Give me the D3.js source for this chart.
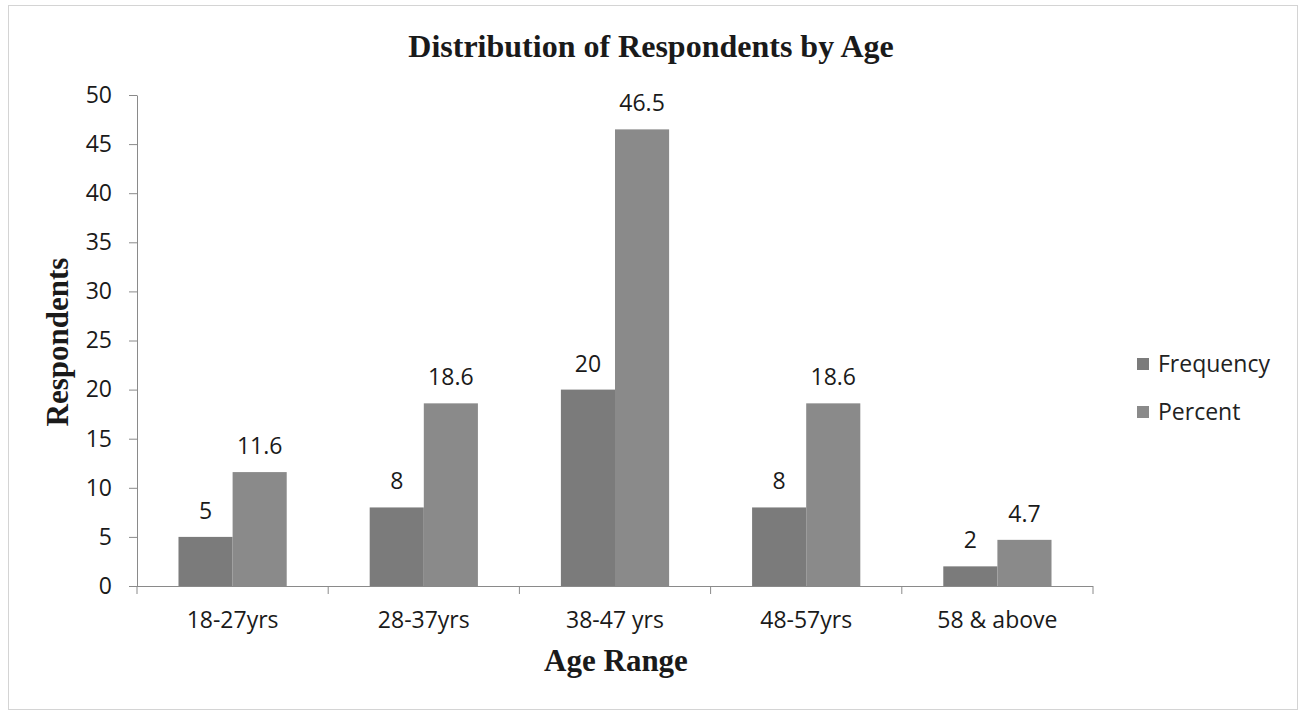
<!DOCTYPE html>
<html>
<head>
<meta charset="utf-8">
<script src="https://cdn.jsdelivr.net/npm/d3@7"></script>
<style>
  html, body { margin: 0; padding: 0; background: #fff; }
  svg { display: block; }
</style>
</head>
<body>
<svg id="chart" width="1300" height="712"></svg>
<script>
// Age groups and the two series plotted for each
const categories = ["18-27yrs", "28-37yrs", "38-47 yrs", "48-57yrs", "58 & above"];
const frequency = [5, 8, 20, 8, 2];
const percent = [11.6, 18.6, 46.5, 18.6, 4.7];
const seriesNames = ["Frequency", "Percent"];
const yTicks = [0, 5, 10, 15, 20, 25, 30, 35, 40, 45, 50];

const svg = d3.select("#chart");
const W = 1300, H = 712;
const margin = { left: 137, right: 207, top: 95, bottom: 126 };
const plotW = W - margin.left - margin.right;
const plotH = H - margin.top - margin.bottom;

const sansFont = "'Open Sans', 'Noto Sans', sans-serif";
const serifFont = "'Liberation Serif', 'DejaVu Serif', serif";
const colors = ["#7b7b7b", "#8a8a8a"];
const textColor = "#1a1a1a";
const labelSize = 23;

// outer chart frame
svg.append("rect")
  .attr("x", 8.5).attr("y", 5.5)
  .attr("width", 1289).attr("height", 704)
  .attr("fill", "#fff").attr("stroke", "#d4d4d4").attr("stroke-width", 1);

const g = svg.append("g").attr("transform", `translate(${margin.left},${margin.top})`);

const x0 = d3.scaleBand().domain(categories).range([0, plotW]);
// each pair of bars fills a bit over half of its category band
const inset = x0.bandwidth() * 0.217;
const x1 = d3.scaleBand().domain(seriesNames).range([inset, x0.bandwidth() - inset]);
const y = d3.scaleLinear().domain([0, 50]).range([plotH, 0]);

// bars
const rows = categories.map((c, i) => ({ cat: c, vals: [frequency[i], percent[i]] }));
const grp = g.selectAll(".grp").data(rows).join("g")
  .attr("class", "grp")
  .attr("transform", d => `translate(${x0(d.cat)},0)`);

grp.selectAll("rect").data(d => d.vals.map((v, k) => ({ k, v }))).join("rect")
  .attr("x", d => x1(seriesNames[d.k]))
  .attr("y", d => y(d.v))
  .attr("width", x1.bandwidth())
  .attr("height", d => y(0) - y(d.v))
  .attr("fill", d => colors[d.k]);

grp.selectAll("text.val").data(d => d.vals.map((v, k) => ({ k, v }))).join("text")
  .attr("class", "val")
  .attr("x", d => x1(seriesNames[d.k]) + x1.bandwidth() / 2)
  .attr("y", d => y(d.v) - 18)
  .attr("text-anchor", "middle")
  .attr("font-family", sansFont)
  .attr("font-size", labelSize)
  .attr("fill", textColor)
  .text(d => d.v);

// y axis
const yAxis = g.append("g")
  .call(d3.axisLeft(y).tickValues(yTicks).tickSize(8).tickSizeOuter(0).tickPadding(17));
yAxis.select(".domain").attr("stroke", "#8a8a8a");
yAxis.selectAll(".tick line").attr("stroke", "#8a8a8a");
yAxis.selectAll(".tick text")
  .attr("font-family", sansFont).attr("font-size", labelSize).attr("fill", textColor);

// x axis with ticks on category boundaries
const xAxis = g.append("g").attr("transform", `translate(0,${plotH})`);
xAxis.append("line").attr("x1", 0).attr("x2", plotW).attr("y1", 0.5).attr("y2", 0.5)
  .attr("stroke", "#8a8a8a");
xAxis.selectAll("line.tk").data(d3.range(categories.length + 1)).join("line")
  .attr("class", "tk")
  .attr("x1", i => i * x0.step()).attr("x2", i => i * x0.step())
  .attr("y1", 0).attr("y2", 8).attr("stroke", "#8a8a8a");
xAxis.selectAll("text").data(categories).join("text")
  .attr("x", d => x0(d) + x0.bandwidth() / 2)
  .attr("y", 42)
  .attr("text-anchor", "middle")
  .attr("font-family", sansFont).attr("font-size", labelSize).attr("fill", textColor)
  .text(d => d);

// title and axis titles
svg.append("text")
  .attr("x", 651).attr("y", 57)
  .attr("text-anchor", "middle")
  .attr("font-family", serifFont).attr("font-weight", "bold").attr("font-size", 32)
  .attr("fill", textColor)
  .text("Distribution of Respondents by Age");

svg.append("text")
  .attr("x", 616).attr("y", 671)
  .attr("text-anchor", "middle")
  .attr("font-family", serifFont).attr("font-weight", "bold").attr("font-size", 31)
  .attr("fill", textColor)
  .text("Age Range");

svg.append("text")
  .attr("transform", "translate(68,342) rotate(-90)")
  .attr("text-anchor", "middle")
  .attr("font-family", serifFont).attr("font-weight", "bold").attr("font-size", 31)
  .attr("fill", textColor)
  .text("Respondents");

// legend
const legend = svg.append("g").attr("transform", "translate(1137,364)");
legend.selectAll("g").data(seriesNames).join("g")
  .attr("transform", (d, i) => `translate(0,${i * 48})`)
  .each(function (d, i) {
    const s = d3.select(this);
    s.append("rect").attr("x", 0).attr("y", -6).attr("width", 12).attr("height", 12)
      .attr("fill", colors[i]);
    s.append("text").attr("x", 21).attr("y", 8)
      .attr("font-family", sansFont).attr("font-size", labelSize).attr("fill", "#222")
      .text(d);
  });
</script>
</body>
</html>
